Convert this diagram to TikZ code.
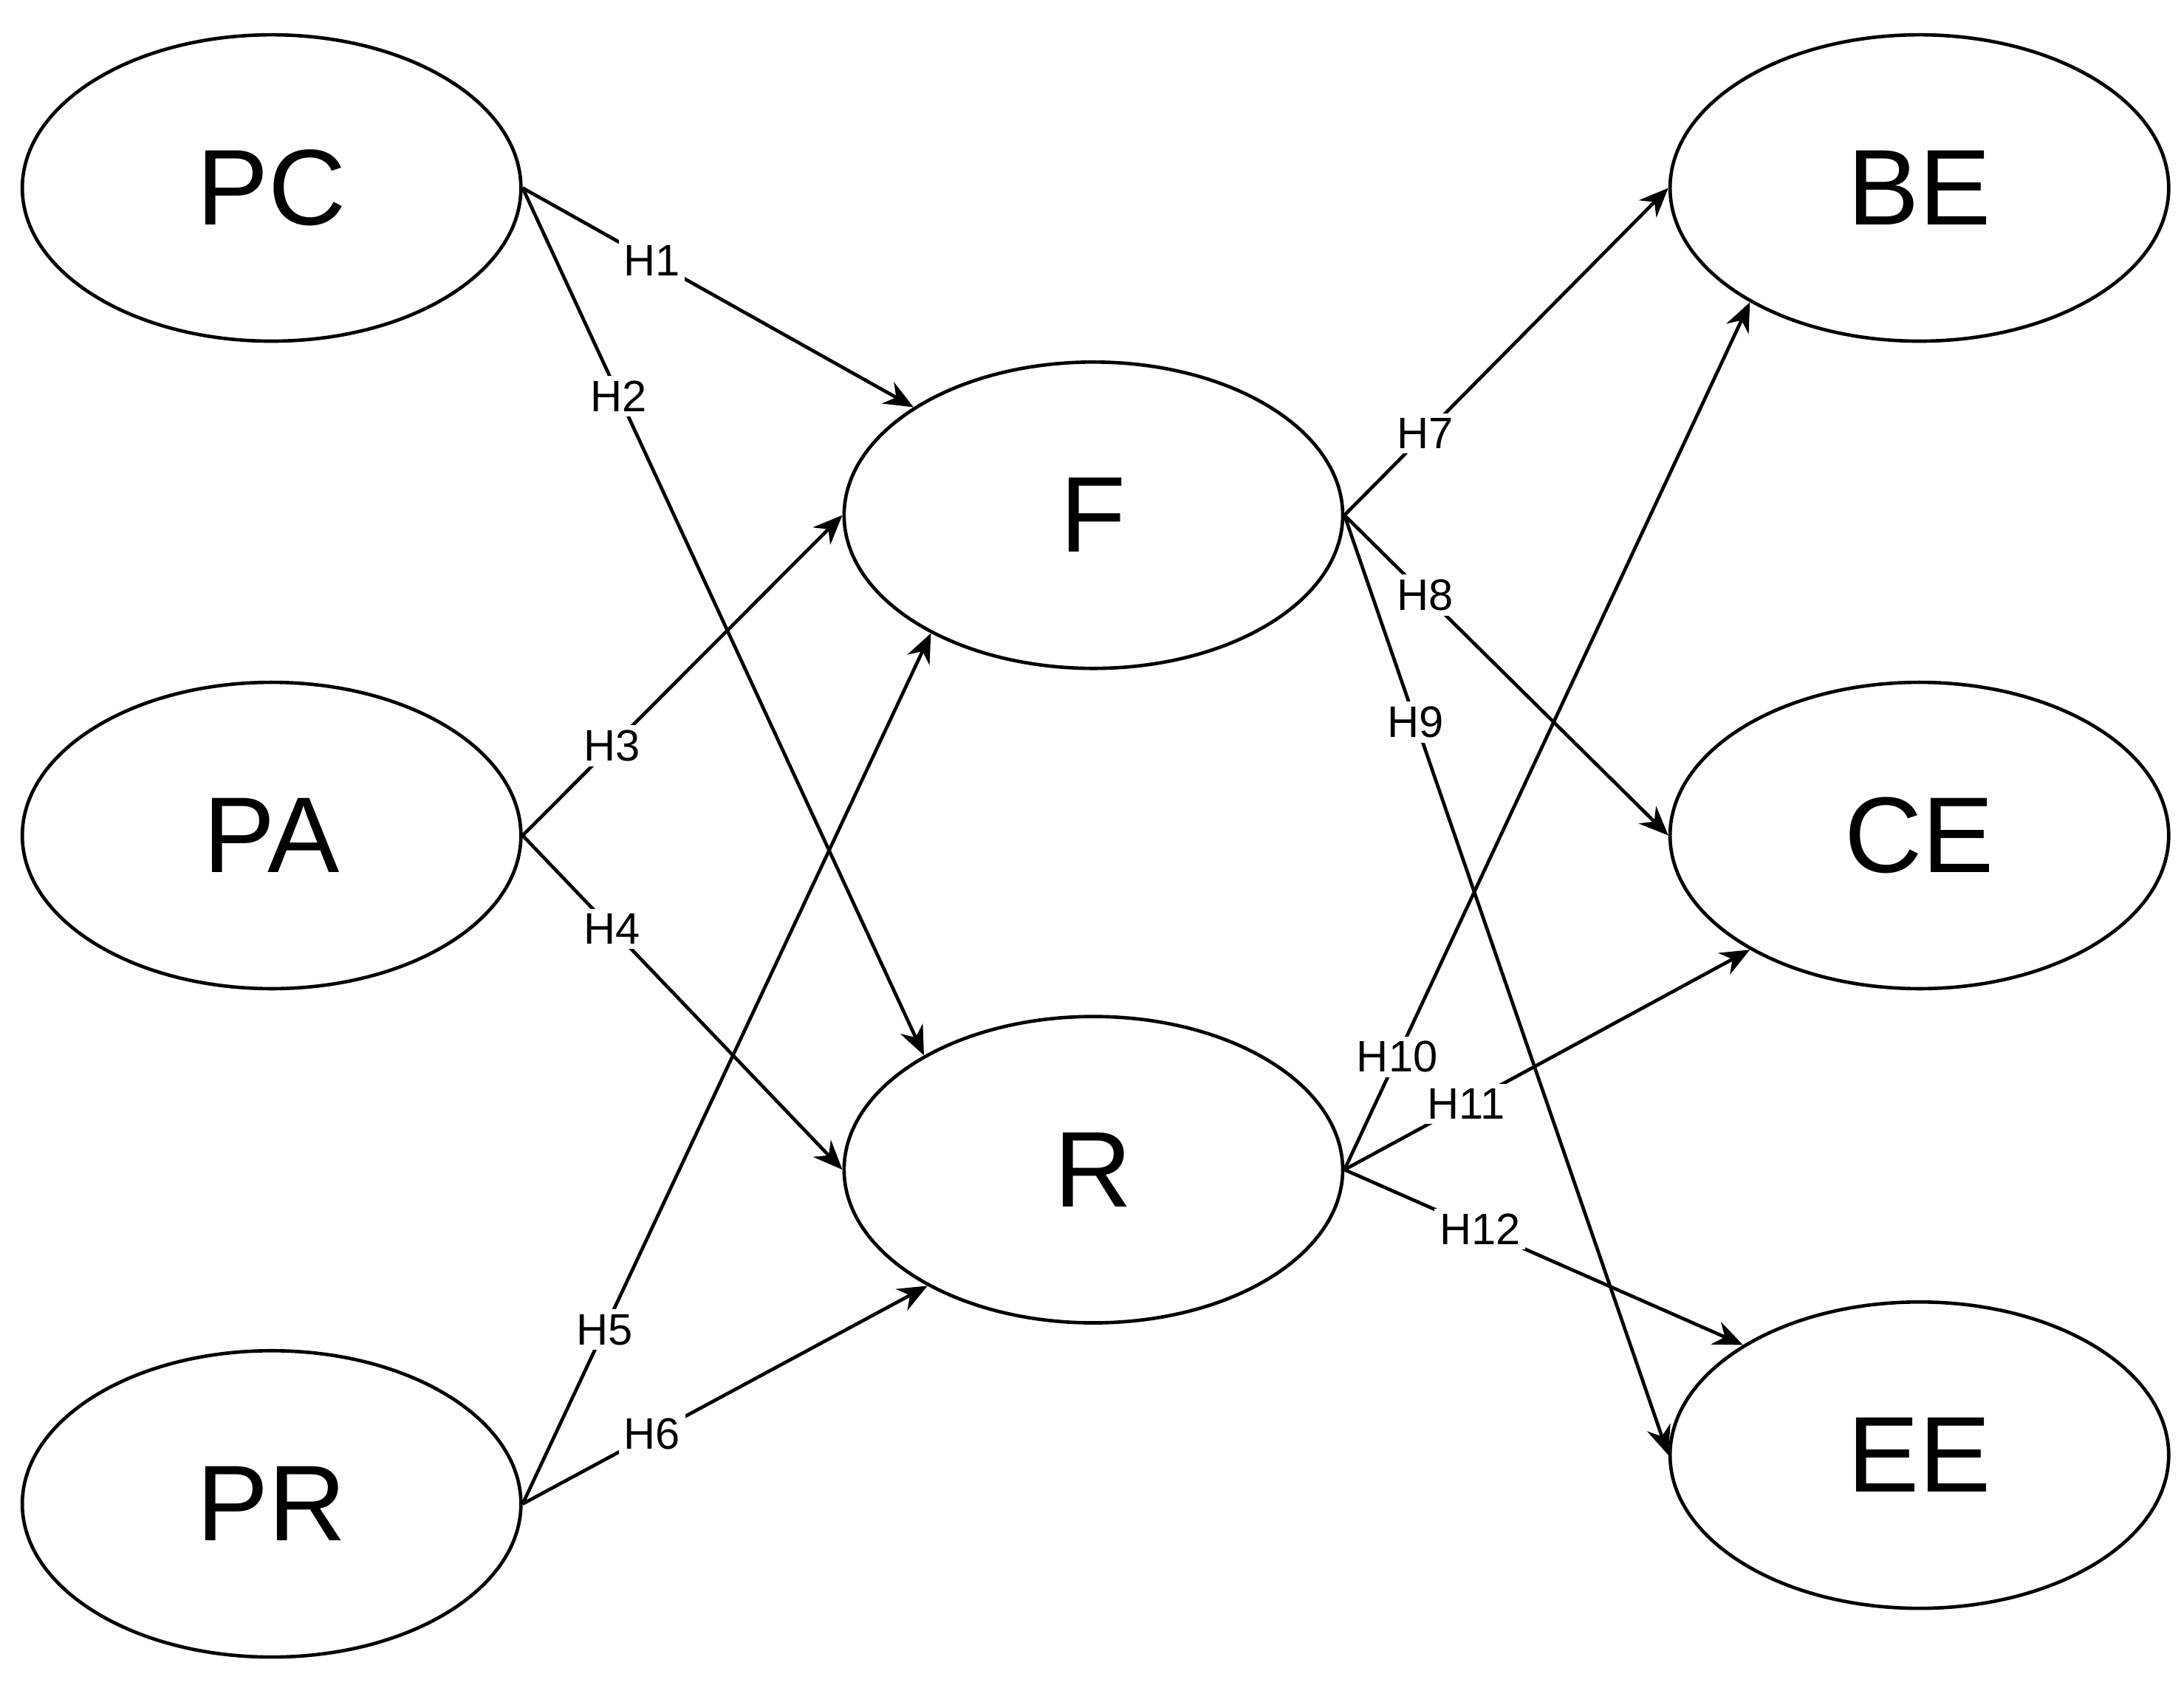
\documentclass[tikz,border=0pt]{standalone}
\usepackage{fontspec}
\setmainfont{Liberation Sans}
\usetikzlibrary{arrows.meta,shapes.geometric}

\begin{document}
\begin{tikzpicture}[
    construct/.style={draw, ellipse, line width=0.7pt, minimum width=3.58cm, minimum height=2.2cm, inner sep=0pt, font=\fontsize{22}{24}\selectfont},
    hyp/.style={->, line width=0.7pt, >={Stealth[length=6pt,width=5pt]}},
    hlabel/.style={fill=white, inner sep=1pt, font=\fontsize{9}{10}\selectfont}
]
    \useasboundingbox (0,0) rectangle (15.68,-12.10);

    % Exogenous constructs
    \node[construct] (PC) at (1.95,-1.35) {PC};
    \node[construct] (PA) at (1.95,-6.00) {PA};
    \node[construct] (PR) at (1.95,-10.80) {PR};

    % Mediators
    \node[construct] (F) at (7.85,-3.70) {F};
    \node[construct] (R) at (7.85,-8.40) {R};

    % Outcomes
    \node[construct] (BE) at (13.78,-1.35) {BE};
    \node[construct] (CE) at (13.78,-6.00) {CE};
    \node[construct] (EE) at (13.78,-10.45) {EE};

    % Paths
    \draw[hyp] (PC.east) -- node[hlabel, pos=0.33] {H1} (F.149);
    \draw[hyp] (PC.east) -- node[hlabel, pos=0.24] {H2} (R.146);
    \draw[hyp] (PA.east) -- node[hlabel, pos=0.28] {H3} (F.west);
    \draw[hyp] (PA.east) -- node[hlabel, pos=0.28] {H4} (R.west);
    \draw[hyp] (PR.east) -- node[hlabel, pos=0.2] {H5} (F.216);
    \draw[hyp] (PR.east) -- node[hlabel, pos=0.32] {H6} (R.215);
    \draw[hyp] (F.east) -- node[hlabel, pos=0.25] {H7} (BE.west);
    \draw[hyp] (F.east) -- node[hlabel, pos=0.25] {H8} (CE.west);
    \draw[hyp] (F.east) -- node[hlabel, pos=0.22] {H9} (EE.west);
    \draw[hyp] (R.east) -- node[hlabel, pos=0.13] {H10} (BE.214);
    \draw[hyp] (R.east) -- node[hlabel, pos=0.3] {H11} (CE.214);
    \draw[hyp] (R.east) -- node[hlabel, pos=0.34] {H12} (EE.148);
\end{tikzpicture}
\end{document}
